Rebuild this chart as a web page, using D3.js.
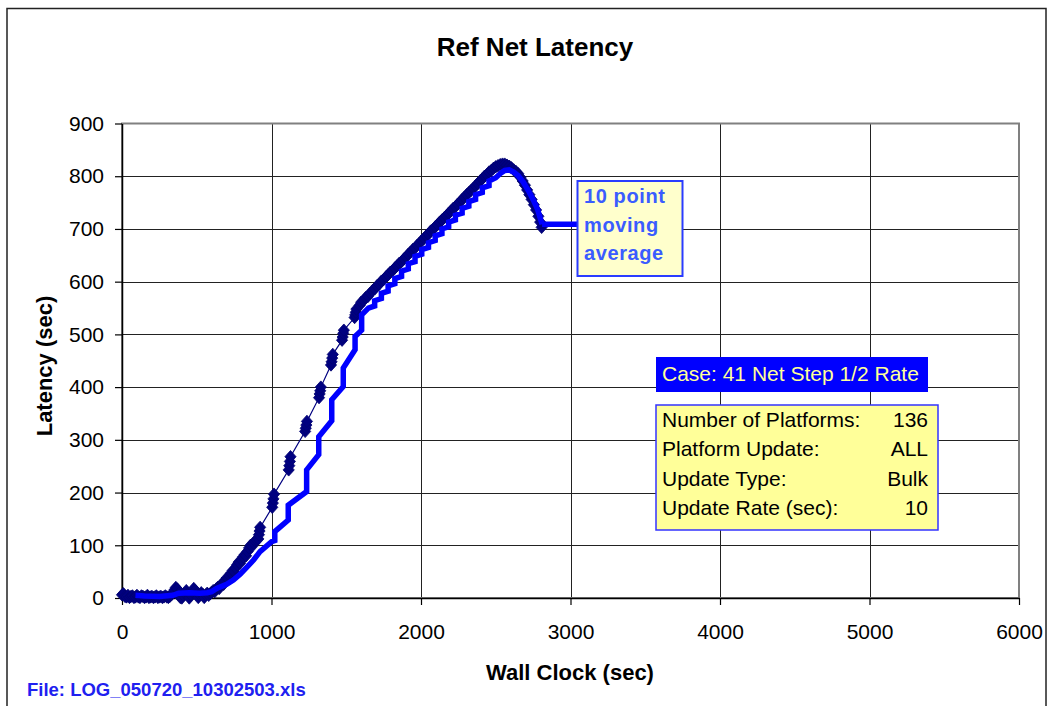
<!DOCTYPE html>
<html><head><meta charset="utf-8">
<script src="https://cdn.jsdelivr.net/npm/d3@7"></script>
<style>
body{margin:0;background:#fff}
svg text{font-family:'Liberation Sans',Arial,sans-serif}
</style>
</head><body>
<svg id="chart" width="1052" height="706"></svg>
<script>
// ---- data ----
const wallClock = [0,10,20,30,40,50,60,70,80,90,100,110,120,130,140,150,160,170,180,190,200,210,220,230,240,250,260,270,280,290,300,310,320,330,340,350,360,370,380,390,400,410,420,430,440,450,460,470,480,490,500,510,520,530,540,550,560,570,580,590,600,
610,620,630,640,650,660,670,680,690,700,710,720,730,740,750,760,770,780,790,800,810,820,830,840,850,860,870,880,890,900,
912,916,920,924,
1005,1009,1013,1017,
1115,1119,1123,1127,
1225,1229,1233,1237,
1318,1322,1326,1330,
1398,1402,1406,1410,
1472,1476,1480,1484,
1556,1560,1564,1568,
1590,1600,1615,1630,1645,1660,1675,1690,1705,1720,1735,1750,1765,1780,1795,1810,1825,1840,1855,1870,1885,1900,1915,1930,1945,1960,1975,1990,2005,2020,2035,2050,2065,2080,2095,2110,2125,2140,2155,2170,2185,2200,2215,2230,2245,2260,2275,2290,2305,2320,2335,2350,2365,2380,2395,2410,2425,2440,2455,2470,2485,2500,2515,2530,2545,2560,2575,2590,2605,2620,2635,2650,2665,2680,2695,2710,2725,2740,2755,2770,2785,2797,2807];
const latency = [6,8,3,2,5,1,3,4,1,2,5,2,1,4,3,1,2,5,1,2,3,1,2,4,1,2,3,1,2,4,2,1,3,6,10,15,20,17,9,1,0,5,9,14,8,0,6,12,18,14,7,1,6,10,7,1,6,9,5,8,11,
14,12,17,20,18,24,28,26,32,38,36,42,47,52,50,57,63,68,66,72,78,82,80,88,95,100,98,104,108,110,
112,120,127,134,
172,180,188,197,
243,251,259,268,
316,322,328,335,
380,387,393,400,
442,448,455,462,
489,495,502,508,
532,537,542,548,
555,561,564,570,572,578,583,586,592,595,601,604,609,613,618,621,626,630,635,638,643,647,652,656,661,664,669,673,678,682,687,690,696,699,704,708,713,717,721,725,730,734,739,742,747,751,756,760,765,769,773,777,782,786,791,795,800,803,808,811,815,818,820,822,823,823,821,819,816,812,809,805,798,791,783,774,765,756,746,736,724,713,703];

const maWallClock = [90,150,250,340,380,450,520,570,600,633,700,745,790,834,880,923,1001,1022,1022,1112,1112,1235,1235,1316,1316,1403,1403,1480,1480,1559,1559,1603,1603,1648,1690,1690,1735,1735,1780,1780,1825,1825,1870,1870,1915,1915,1960,1960,2005,2005,2050,2050,2095,2095,2140,2140,2185,2185,2230,2230,2275,2275,2320,2320,2365,2365,2410,2410,2455,2455,2500,2530,2560,2590,2620,2650,2684,2720,2751,2780,2810];
const maLatency = [5,4,3,5,9,10,9,10,12,18,26,34,45,58,72,88,107,109,126,148,176,202,243,272,306,336,376,401,436,471,496,508,537,550,554,564,568,578,582,592,596,606,610,620,624,634,638,648,652,661,665,674,678,687,691,700,704,713,717,726,730,739,743,752,756,765,769,778,782,791,797,805,811,812,808,801,789,772,755,737,709];

const xTicks = [0,1000,2000,3000,4000,5000,6000];
const yTicks = [0,100,200,300,400,500,600,700,800,900];
const infoLabels = ["Number of Platforms:","Platform Update:","Update Type:","Update Rate (sec):"];
const infoValues = ["136","ALL","Bulk","10"];
const maNoteLines = ["10 point","moving","average"];
const caseText = "Case: 41 Net Step 1/2 Rate";
const chartTitle = "Ref Net Latency";
const xTitle = "Wall Clock (sec)";
const yTitle = "Latency (sec)";
const fileText = "File: LOG_050720_10302503.xls";

// ---- drawing ----
const svg = d3.select("#chart");
const L = 122, R = 1019, T = 123.5, B = 598;
const x = d3.scaleLinear().domain([0,6000]).range([L,R]);
const y = d3.scaleLinear().domain([0,900]).range([B,T]);

// outer frame
svg.append("rect").attr("x",7).attr("y",8.5).attr("width",1039).attr("height",720)
  .attr("fill","#fff").attr("stroke","#222").attr("stroke-width",1.5);

// grid
const grid = svg.append("g").attr("shape-rendering","crispEdges");
grid.selectAll(".hg").data(yTicks.filter(d=>d>0 && d<900)).join("line")
  .attr("x1",L).attr("x2",R).attr("y1",d=>Math.round(y(d))+0.5).attr("y2",d=>Math.round(y(d))+0.5)
  .attr("stroke","#222").attr("stroke-width",1);
grid.selectAll(".vg").data(xTicks.filter(d=>d>0 && d<6000)).join("line")
  .attr("y1",T).attr("y2",B).attr("x1",d=>Math.round(x(d))+0.5).attr("x2",d=>Math.round(x(d))+0.5)
  .attr("stroke","#222").attr("stroke-width",1);
// plot border
svg.append("rect").attr("x",L).attr("y",T).attr("width",R-L).attr("height",B-T)
  .attr("fill","none").attr("stroke","#808080").attr("stroke-width",2);

// axes
const xAxis = svg.append("g").attr("transform",`translate(0,${B})`)
  .call(d3.axisBottom(x).tickValues(xTicks).tickFormat(d3.format("d")).tickSize(7).tickSizeOuter(0).tickPadding(19));
const yAxis = svg.append("g").attr("transform",`translate(${L},0)`)
  .call(d3.axisLeft(y).tickValues(yTicks).tickFormat(d3.format("d")).tickSize(7).tickSizeOuter(0).tickPadding(11));
[xAxis,yAxis].forEach(a=>{
  a.select(".domain").attr("stroke","#000").attr("stroke-width",1.5);
  a.selectAll(".tick line").attr("stroke","#000").attr("stroke-width",1.2);
  a.selectAll("text").attr("font-size",21).attr("fill","#000")
   .attr("font-family","'Liberation Sans',Arial,sans-serif");
});

// scatter series with thin connecting line
const pts = wallClock.map((w,i)=>({w, l:latency[i]}));
svg.append("path").datum(pts)
  .attr("d", d3.line().x(d=>x(d.w)).y(d=>y(d.l)))
  .attr("fill","none").attr("stroke","#000080").attr("stroke-width",1.2);
svg.append("g").selectAll("path").data(pts).join("path")
  .attr("transform",d=>`translate(${x(d.w)},${y(d.l)})`)
  .attr("d","M0,-6.2L5.6,0L0,6.2L-5.6,0Z")
  .attr("fill","#000080").attr("stroke","#000070").attr("stroke-width",0.8);

// moving average
const ma = maWallClock.map((w,i)=>({w, l:maLatency[i]}));
svg.append("path").datum(ma)
  .attr("d", d3.line().x(d=>x(d.w)).y(d=>y(d.l)))
  .attr("fill","none").attr("stroke","#0000ff").attr("stroke-width",5.5).attr("stroke-linejoin","miter");

// moving-average callout
const last = ma[ma.length-1];
const nbX = 577.5, nbY = 181, nbW = 105, nbH = 95;
svg.append("line").attr("x1",x(last.w)).attr("x2",nbX).attr("y1",y(last.l)).attr("y2",y(last.l))
  .attr("stroke","#0000ff").attr("stroke-width",5.5);
svg.append("rect").attr("x",nbX).attr("y",nbY).attr("width",nbW).attr("height",nbH)
  .attr("fill","#ffffcc").attr("stroke","#2a3cff").attr("stroke-width",2);
svg.append("g").selectAll("text").data(maNoteLines).join("text")
  .attr("x",584).attr("y",(d,i)=>203+i*28.7)
  .attr("font-size",20).attr("font-weight","bold").attr("fill","#3a5cff").attr("letter-spacing",0.6)
  .text(d=>d);

// case box
svg.append("rect").attr("x",656).attr("y",357).attr("width",272).attr("height",35).attr("fill","#0000ff");
svg.append("text").attr("x",662).attr("y",381).attr("font-size",21).attr("fill","#ffff99").text(caseText);

// info box
svg.append("rect").attr("x",656).attr("y",405).attr("width",282).attr("height",125)
  .attr("fill","#ffff99").attr("stroke","#3333ff").attr("stroke-width",1.5);
const info = svg.append("g");
info.selectAll(".lab").data(infoLabels).join("text")
  .attr("x",662).attr("y",(d,i)=>427+i*29.4).attr("font-size",21).attr("fill","#000").text(d=>d);
info.selectAll(".val").data(infoValues).join("text")
  .attr("x",928).attr("y",(d,i)=>427+i*29.4).attr("font-size",21).attr("fill","#000")
  .attr("text-anchor","end").text(d=>d);

// titles
svg.append("text").attr("x",535).attr("y",56).attr("text-anchor","middle")
  .attr("font-size",26).attr("font-weight","bold").text(chartTitle);
svg.append("text").attr("x",570).attr("y",680).attr("text-anchor","middle")
  .attr("font-size",22).attr("font-weight","bold").text(xTitle);
svg.append("text").attr("transform","translate(52,366) rotate(-90)").attr("text-anchor","middle")
  .attr("font-size",22).attr("font-weight","bold").text(yTitle);
svg.append("text").attr("x",27).attr("y",696).attr("font-size",18.5).attr("font-weight","bold")
  .attr("fill","#2020f0").text(fileText);
</script>
</body></html>
